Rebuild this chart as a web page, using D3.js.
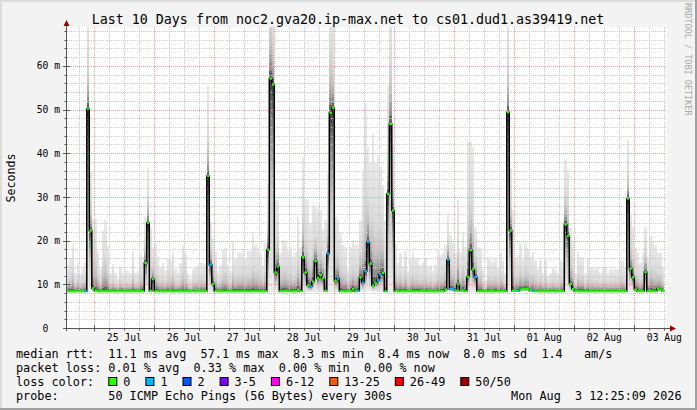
<!DOCTYPE html>
<html><head><meta charset="utf-8">
<script src="https://cdn.jsdelivr.net/npm/d3@7"></script>
<style>html,body{margin:0;padding:0;background:#f3f3f3;} svg{display:block;} text{font-family:"DejaVu Sans Mono",monospace;}</style>
</head><body><svg id="c" width="697" height="410"></svg>
<script>
// ---------------- DATA ----------------
const title = "Last 10 Days from noc2.gva20.ip-max.net to cs01.dud1.as39419.net";
const yLabel = "Seconds";
const watermark = "RRDTOOL / TOBI OETIKER";
const yTicks = [0, 10, 20, 30, 40, 50, 60];                 // ms
const yTickLabels = ["0", "10 m", "20 m", "30 m", "40 m", "50 m", "60 m"];
const xTickLabels = ["25 Jul","26 Jul","27 Jul","28 Jul","29 Jul","30 Jul","31 Jul","01 Aug","02 Aug","03 Aug"];
const minRtt = 8.3; // ms, lowest ping (legend min)

// hourly steps starting Jul 24 13:00 UTC
const median = [
  8.4,8.4,8.4,8.4,8.4,8.4,8.4,8.4,50.2,22.3,
  9.1,8.5,8.4,8.4,8.4,8.4,8.4,8.4,8.4,8.4,
  8.4,8.4,8.4,8.4,8.4,8.4,8.4,8.4,8.4,8.4,
  8.4,14.9,24.1,8.5,11.2,8.4,8.4,8.4,8.4,8.4,
  8.4,8.4,8.4,8.4,8.4,8.4,8.4,8.4,8.4,8.4,
  8.4,8.4,8.4,8.4,8.4,8.4,34.8,14.5,10.1,8.4,
  8.4,8.4,8.4,8.4,8.4,8.4,8.4,8.4,8.4,8.4,
  8.4,8.4,8.4,8.4,8.4,8.4,8.4,8.4,8.4,8.4,
  17.9,57.1,55.7,12.7,14.1,8.4,8.4,8.5,8.4,8.4,
  8.4,8.4,8.7,8.4,16.2,12.7,9.8,9.5,10.6,15.3,
  11.4,12.1,11.4,8.5,17.0,49.3,50.4,10.8,11.3,8.4,
  8.4,8.4,8.4,8.4,8.9,8.4,8.5,11.6,10.4,13.0,
  19.7,14.7,9.7,10.3,11.0,12.2,12.6,8.4,30.7,46.7,
  26.9,8.4,8.4,8.4,8.4,8.4,8.4,8.4,8.4,8.4,
  8.4,8.5,8.4,8.4,8.4,8.4,8.4,8.4,8.4,8.4,
  8.4,8.8,15.6,8.9,8.9,8.6,10.0,8.5,8.6,8.4,
  11.7,17.8,13.4,11.7,8.4,8.4,8.4,8.4,8.4,8.4,
  8.4,8.4,8.4,8.4,8.4,8.4,49.4,22.3,8.5,8.5,
  8.5,8.8,8.9,9.0,8.9,8.6,8.5,8.4,8.4,8.4,
  8.4,8.4,8.4,8.4,8.4,8.4,8.4,8.4,8.4,23.7,
  21.1,10.1,8.9,8.4,8.4,8.4,8.4,8.4,8.4,8.4,
  8.4,8.4,8.4,8.4,8.4,8.4,8.4,8.4,8.4,8.4,
  8.4,8.4,8.4,8.4,29.6,13.6,11.6,8.8,8.4,8.4,
  8.4,12.8,8.4,8.4,8.4,8.4,9.0,8.8,8.5
];
const smokeHi = [
  14.5,16.0,19.2,12.6,14.9,12.6,13.9,15.0,75,36,
  25.0,24.9,17.6,13.6,22.2,24.7,18.6,12.5,14.6,12.5,
  11.4,14.3,12.5,13.3,13.0,12.5,17.7,12.5,13.0,16.7,
  16.3,25.5,36.9,23.2,18.6,19.4,16.3,14.0,14.8,13.3,
  16.0,15.6,17.7,13.6,12.5,14.8,19.1,17.1,12.5,11.4,
  13.6,14.0,14.4,14.8,14.8,14.6,55.3,24.2,20.4,17.6,
  13.0,14.5,17.8,18.3,14.5,13.0,19.9,16.0,17.3,17.1,
  18.0,16.0,17.6,17.6,21.7,19.1,18.3,16.8,14.5,19.5,
  33,90,80,29.3,29.3,17.1,20.2,19.8,17.7,18.6,
  16.3,17.4,25.5,18.6,39.2,29.6,29.3,23.9,28.2,27.8,
  27.4,27.0,22.4,24.7,35.4,80,72,25.5,24.7,21.7,
  19.0,18.6,13.6,18.6,20.2,19.0,19.0,24.7,35.7,51.4,
  41.5,37.7,44.5,37.7,39.2,36.9,32.7,24.7,55.3,78,
  42,19.4,14.9,17.2,14.2,17.6,13.0,15.7,17.6,16.0,
  16.0,14.5,15.2,16.0,14.2,14.5,13.0,14.5,17.6,16.8,
  17.1,19.0,26.0,21.3,19.4,17.1,29.3,17.5,21.7,18.6,
  42.6,42.6,41.5,23.2,18.6,18.2,13.6,11.0,16.3,15.6,
  15.2,16.0,14.0,17.1,15.6,12.5,75,36.6,27.0,16.3,
  16.7,19.4,16.0,19.4,18.2,16.3,17.5,15.6,13.6,15.6,
  12.5,15.6,11.8,12.5,14.0,13.3,12.5,15.6,15.2,38.7,
  36.1,22.8,19.7,12.5,17.5,16.3,16.3,12.5,16.0,14.0,
  14.0,13.6,14.0,12.5,14.0,14.0,12.5,13.6,13.3,13.6,
  13.3,15.6,15.6,14.0,43.0,25.7,23.2,18.2,17.1,14.8,
  17.1,23.2,16.3,21.0,19.7,18.9,17.1,17.1,14.0
];
// loss bucket per step (0 = no loss, 1 = 1 of 50)
const loss = [
  0,0,0,0,0,0,0,1,0,0, 0,0,0,0,0,0,0,0,0,0, 0,0,0,0,0,0,0,0,0,0, 0,0,0,0,0,0,0,0,0,0,
  0,0,0,0,0,0,0,0,0,0, 0,0,0,0,0,0,0,1,0,0, 0,0,0,0,0,0,0,0,0,0, 0,0,0,0,0,0,0,0,0,0,
  0,0,0,0,0,0,0,0,0,0, 0,0,0,0,0,0,0,1,0,0, 0,0,0,0,1,0,0,0,1,0, 0,0,0,0,0,0,1,0,1,1,
  1,0,0,0,1,1,0,0,0,0, 0,0,0,0,0,0,0,0,0,0, 0,0,0,0,0,0,0,0,0,0, 0,0,1,1,1,0,0,0,0,0,
  0,0,0,1,0,0,0,0,0,0, 0,0,0,0,0,0,0,0,0,0, 1,0,0,0,0,0,1,0,0,0, 0,0,0,0,0,0,0,0,0,0,
  0,0,0,0,0,0,0,0,0,0, 0,0,0,0,0,0,0,0,0,0, 0,0,0,0,0,0,0,0,0,0, 0,0,0,0,0,0,0,0,0
];
const lossLabels = ["0","1","2","3-5","6-12","13-25","26-49","50/50"];
const lossColors = ["#26ff00","#00b8ff","#0059ff","#7e00ff","#ff00ff","#ff5a00","#ff0000","#a00000"];
const legendRtt = ["median rtt:","11.1 ms avg","57.1 ms max","8.3 ms min","8.4 ms now","8.0 ms sd","1.4","am/s"];
const legendRttCols = [0,13,26,39,51,63,74,80];
const legendLoss = ["packet loss:","0.01 % avg","0.33 % max","0.00 % min","0.00 % now"];
const legendLossCols = [0,13,25,37,49];
const probeText = ["probe:","50 ICMP Echo Pings (56 Bytes) every 300s"];
const stampText = "Mon Aug  3 12:25:09 2026";

// ---------------- CHART ----------------
const svg = d3.select("#c");
const X0 = 67, X1 = 667, YB = 328, YT = 26.5;
const t0 = Date.UTC(2026,6,24,13,4,48), t1 = Date.UTC(2026,7,3,13,4,48);
const x = d3.scaleUtc().domain([new Date(t0), new Date(t1)]).range([X0, X1]);
const y = d3.scaleLinear().domain([0, 69]).range([YB, YT]);
const stepStart = Date.UTC(2026,6,24,13,0,0);
const HOUR = 3600e3;
const steps = median.map((m, i) => ({
  i, m, hi: smokeHi[i], loss: loss[i],
  xa: x(new Date(stepStart + i*HOUR)), xb: x(new Date(stepStart + (i+1)*HOUR))
}));

// background & frame
svg.append("rect").attr("width",697).attr("height",410).attr("fill","#f3f3f3");
svg.append("rect").attr("x",0).attr("y",0).attr("width",697).attr("height",2).attr("fill","#dcdcdc");
svg.append("rect").attr("x",0).attr("y",0).attr("width",2).attr("height",410).attr("fill","#dcdcdc");
svg.append("rect").attr("x",0).attr("y",408).attr("width",697).attr("height",2).attr("fill","#9f9f9f");
svg.append("rect").attr("x",695).attr("y",0).attr("width",2).attr("height",410).attr("fill","#9f9f9f");

// canvas
svg.append("rect").attr("x",X0).attr("y",27).attr("width",X1-X0).attr("height",YB-27).attr("fill","#fff");
svg.append("clipPath").attr("id","cp").append("rect").attr("x",X0).attr("y",27).attr("width",X1-X0).attr("height",YB-27);

// smoke
const gUp = d3.scaleLinear().domain([0,0.07,0.22,0.45,1]).range([70,140,192,218,233]).clamp(true);
const gDn = d3.scaleLinear().domain([0,0.2,0.5,1]).range([60,135,200,238]).clamp(true);
const smoke = svg.append("g").attr("clip-path","url(#cp)").attr("shape-rendering","crispEdges");
const NB = 18;
steps.forEach(s => {
  for (let k = 0; k < NB; k++) {
    const va = s.m + (s.hi - s.m)*k/NB, vb = s.m + (s.hi - s.m)*(k+1)/NB;
    const g = Math.round(gUp((k+0.5)/NB));
    smoke.append("rect").attr("x", s.xa).attr("width", s.xb - s.xa)
      .attr("y", y(vb)).attr("height", Math.max(0, y(va) - y(vb)))
      .attr("fill", `rgb(${g},${g},${g})`);
  }
  if (s.m - minRtt > 0.3) {
    for (let k = 0; k < NB; k++) {
      const va = s.m - (s.m - minRtt)*k/NB, vb = s.m - (s.m - minRtt)*(k+1)/NB;
      const g = Math.round(gDn((k+0.5)/NB));
      smoke.append("rect").attr("x", s.xa).attr("width", s.xb - s.xa)
        .attr("y", y(va)).attr("height", Math.max(0, y(vb) - y(va)))
        .attr("fill", `rgb(${g},${g},${g})`);
    }
  }
});

// grid
const grid = svg.append("g").attr("stroke-dasharray","1,1").attr("stroke-width",1);
const px = v => Math.round(v) + 0.5;
d3.range(2, 69, 2).filter(v => v % 10 !== 0).forEach(v => {
  grid.append("line").attr("x1",X0).attr("x2",X1).attr("y1",px(y(v))).attr("y2",px(y(v))).attr("stroke","#c8c8c8");
});
const minorT = x.ticks(d3.utcHour.every(6)).filter(d => d.getUTCHours() !== 0);
minorT.forEach(d => {
  grid.append("line").attr("y1",27).attr("y2",YB).attr("x1",px(x(d))).attr("x2",px(x(d))).attr("stroke","#c8c8c8");
});
yTicks.filter(v => v > 0).forEach(v => {
  grid.append("line").attr("x1",X0).attr("x2",X1).attr("y1",px(y(v))).attr("y2",px(y(v))).attr("stroke","#f09c9c");
});
const majorT = x.ticks(d3.utcDay.every(1));
majorT.forEach(d => {
  grid.append("line").attr("y1",27).attr("y2",YB).attr("x1",px(x(d))).attr("x2",px(x(d))).attr("stroke","#f09c9c");
});

// median line (black step) + loss-coloured dashes
const pts = steps.map(s => [s.xa, y(s.m)]);
pts.push([steps[steps.length-1].xb, y(steps[steps.length-1].m)]);
svg.append("path").attr("clip-path","url(#cp)")
  .attr("d", d3.line().curve(d3.curveStepAfter)(pts))
  .attr("fill","none").attr("stroke","#000").attr("stroke-width",1.5);
svg.append("g").attr("clip-path","url(#cp)").selectAll("rect").data(steps).join("rect")
  .attr("x", d => d.xa).attr("width", d => d.xb - d.xa + 0.2)
  .attr("y", d => y(d.m) - 1.1).attr("height", 2.2)
  .attr("fill", d => lossColors[d.loss]);

// axes
const axC = "#555";
svg.append("line").attr("x1",66.5).attr("x2",66.5).attr("y1",24).attr("y2",YB+3).attr("stroke",axC);
svg.append("line").attr("x1",63).attr("x2",671).attr("y1",YB+0.5).attr("y2",YB+0.5).attr("stroke",axC);
svg.append("path").attr("d","M63.5,26 L66.5,20 L69.5,26 Z").attr("fill","#a00000");
svg.append("path").attr("d","M670,325.5 L676,328.5 L670,331.5 Z").attr("fill","#a00000");
d3.range(2, 69, 2).forEach(v => {
  const maj = v % 10 === 0;
  svg.append("line").attr("x1", maj ? 63 : 64.5).attr("x2", maj ? 70 : 66.5)
    .attr("y1",px(y(v))).attr("y2",px(y(v))).attr("stroke",axC);
});
minorT.forEach(d => svg.append("line").attr("x1",px(x(d))).attr("x2",px(x(d))).attr("y1",YB).attr("y2",YB+2.5).attr("stroke",axC));
majorT.forEach(d => svg.append("line").attr("x1",px(x(d))).attr("x2",px(x(d))).attr("y1",YB-3).attr("y2",YB+3.5).attr("stroke",axC));

// tick labels
svg.append("g").selectAll("text").data(yTicks).join("text")
  .attr("x", (d,i) => yTickLabels[i].length === 1 ? 48.3 : 60)
  .attr("y", d => y(d) + 3.6).attr("text-anchor","end")
  .attr("font-size","9.7px").attr("fill","#000")
  .text((d,i) => yTickLabels[i]);
const noons = majorT.map(d => new Date(+d + 12*HOUR)).filter(d => x(d) <= X1);
svg.append("g").selectAll("text").data(noons).join("text")
  .attr("x", d => x(d)).attr("y", 341).attr("text-anchor","middle")
  .attr("font-size","9.7px").attr("fill","#000")
  .text((d,i) => xTickLabels[i]);

// titles
svg.append("text").attr("x",348).attr("y",24).attr("text-anchor","middle")
  .attr("font-size","13.3px").attr("fill","#000").text(title);
svg.append("text").attr("transform","translate(15,178) rotate(-90)").attr("text-anchor","middle")
  .attr("font-size","11.6px").attr("fill","#000").text(yLabel);
svg.append("text").attr("transform","translate(684.5,3) rotate(90)").attr("text-anchor","start")
  .attr("font-size","8.5px").attr("fill","#a8a8a8").text(watermark);

// legend
const CW = 7.1, LX = 16, LFS = "11.8px";
const lg = svg.append("g").attr("font-size",LFS).attr("fill","#000");
legendRtt.forEach((t,i) => lg.append("text").attr("x", LX + legendRttCols[i]*CW).attr("y",358).text(t));
legendLoss.forEach((t,i) => lg.append("text").attr("x", LX + legendLossCols[i]*CW).attr("y",372).text(t));
lg.append("text").attr("x", LX).attr("y",386).text("loss color:");
let bx = LX + 13*CW;
lossLabels.forEach((t,i) => {
  lg.append("rect").attr("x", bx+0.5).attr("y", 377.5).attr("width", 8).attr("height", 8)
    .attr("fill", lossColors[i]).attr("stroke","#000").attr("stroke-width",1);
  lg.append("text").attr("x", bx + 15).attr("y", 386).text(t);
  bx = bx + 15 + t.length*CW + 15;
});
lg.append("text").attr("x", LX).attr("y",400).text(probeText[0]);
lg.append("text").attr("x", LX + 13*CW).attr("y",400).text(probeText[1]);
lg.append("text").attr("x", 681.5).attr("y",400).attr("text-anchor","end").attr("xml:space","preserve").style("white-space","pre").text(stampText);
</script>
</body></html>
